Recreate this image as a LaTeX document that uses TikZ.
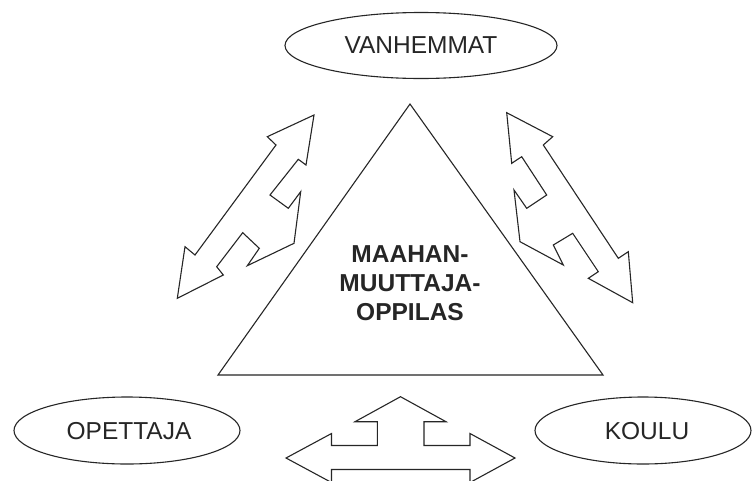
\documentclass[tikz,border=0pt]{standalone}
\usepackage{fontspec}
\setmainfont{Liberation Sans}
\usetikzlibrary{shapes.geometric}
\begin{document}
\begin{tikzpicture}[x=1pt,y=-1pt,
  outline/.style={draw=black!85, line width=1.1pt, line join=miter, fill=white},
  party/.style={ellipse, outline, inner sep=0pt, minimum height=67pt},
  partyname/.style={font=\fontsize{24.5}{29}\selectfont, text=black!85, inner sep=0pt},
  centre/.style={align=center, font=\bfseries\fontsize{24.5}{29}\selectfont, text=black!85}]
\useasboundingbox (0,0) rectangle (752,480);

% the three parties
\node[party, minimum width=272pt, minimum height=66pt] (parents) at (421,45.5) {};
\node[partyname] (parentsname) at (421,45.5) {VANHEMMAT};
\node[party, minimum width=226pt] (teacher) at (127,430.5) {};
\node[partyname] (teachername) at (129,431) {OPETTAJA};
\node[party, minimum width=216pt] (school) at (643,430.5) {};
\node[partyname] (schoolname) at (647,431) {KOULU};

% the pupil in the middle
\draw[outline] (410,104) -- (603,375) -- (218,375) -- cycle;
\node[centre] (pupil) at (410,283) {MAAHAN-\\MUUTTAJA-\\OPPILAS};

% two-way arrow towards the parents, left side
\draw[outline] (314,115) -- (306,165) -- (298.3,159.3) -- (270,195) -- (288.3,208.3)
  -- (300.7,191.7) -- (294,243.3) -- (247.3,265.7) -- (259.3,248.3) -- (242.7,232.7)
  -- (216.7,266.7) -- (223.3,275) -- (177.3,298.3) -- (185,246.7) -- (195,255)
  -- (276,145) -- (267.3,136.7) -- cycle;

% two-way arrow towards the parents, right side
\draw[outline] (506.7,112.7) -- (552.7,136.7) -- (543.3,145) -- (618.3,258.3)
  -- (628.3,251.7) -- (632.7,302.7) -- (588.3,278.3) -- (598.3,271.7) -- (572.7,233.3)
  -- (553.3,245) -- (563.3,265) -- (520,241.7) -- (514,190) -- (526.7,208.3)
  -- (546.7,195) -- (521.7,156.7) -- (511.7,163.3) -- cycle;

% three-way arrow between teacher, school and pupil
\draw[outline] (400.5,396.7) -- (446,421.7) -- (424,421.7) -- (424,445.5) -- (470,445.5)
  -- (470,433.5) -- (515,458) -- (470,482.5) -- (470,469.5) -- (331.5,469.5)
  -- (331.5,482.5) -- (286,458) -- (331.5,433.5) -- (331.5,445.5) -- (377.3,445.5)
  -- (377.3,421.7) -- (355,421.7) -- cycle;
\end{tikzpicture}
\end{document}
